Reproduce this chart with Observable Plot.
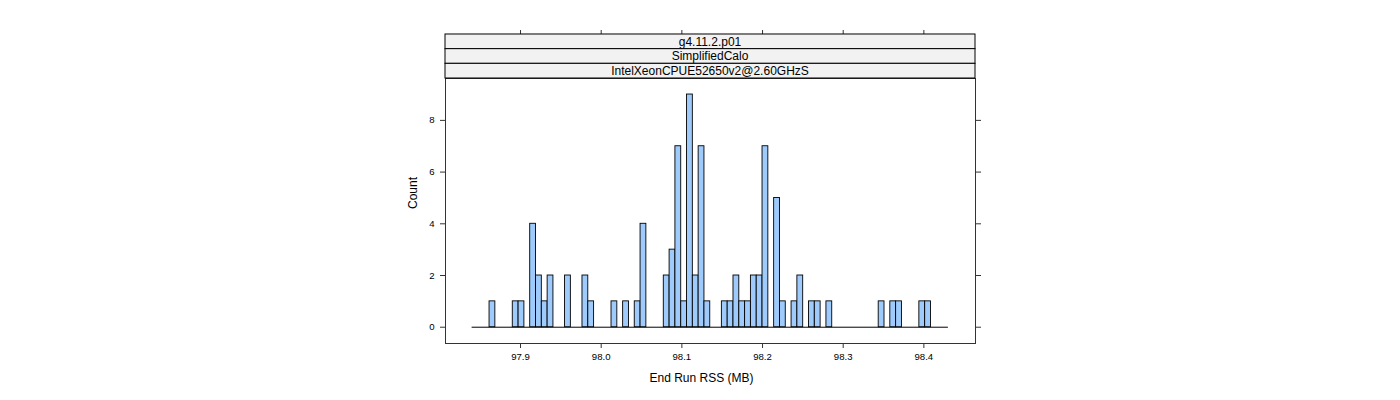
<!DOCTYPE html>
<html>
<head>
<meta charset="utf-8">
<script src="https://cdn.jsdelivr.net/npm/d3@7"></script>
<script src="https://cdn.jsdelivr.net/npm/@observablehq/plot@0.6"></script>
<style>
  html, body { margin: 0; padding: 0; background: #fff; }
  #chart { position: relative; width: 1400px; height: 400px; }
  svg { font-family: "Liberation Sans", Arial, sans-serif; }
</style>
</head>
<body>
<div id="chart"></div>
<script>
// ---- data ----
const stripLabels = ["g4.11.2.p01", "SimplifiedCalo", "IntelXeonCPUE52650v2@2.60GHzS"];
const breakMin = 97.84;
const breakMax = 98.4304;
const binWidth = 0.0072;
const binLow = [97.8616, 97.8904, 97.8976, 97.912, 97.9192, 97.9264, 97.9336, 97.9552, 97.9768, 97.984,
  98.0128, 98.0272, 98.0416, 98.0488, 98.0776, 98.0848, 98.092, 98.0992, 98.1064, 98.1136,
  98.1208, 98.128, 98.1496, 98.1568, 98.164, 98.1712, 98.1784, 98.1856, 98.1928, 98.2,
  98.2144, 98.2216, 98.236, 98.2432, 98.2576, 98.2648, 98.2792, 98.344, 98.3584, 98.3656,
  98.3944, 98.4016];
const counts = [1, 1, 1, 4, 2, 1, 2, 2, 2, 1,
  1, 1, 1, 4, 2, 3, 7, 1, 9, 2,
  7, 1, 1, 1, 2, 1, 1, 2, 2, 7,
  5, 1, 1, 2, 1, 1, 1, 1, 1, 1,
  1, 1];
const xTicks = [97.9, 98.0, 98.1, 98.2, 98.3, 98.4];
const yTicks = [0, 2, 4, 6, 8];
const xLabel = "End Run RSS (MB)";
const yLabel = "Count";

const bins = binLow.map((v, i) => ({x1: v, x2: v + binWidth, count: counts[i]}));
const baseline = [{x1: breakMin, x2: breakMax}];

const W = 1400, H = 400;
const mL = 445, mR = 425, mT = 78, mB = 57;

const plot = Plot.plot({
  width: W,
  height: H,
  marginLeft: mL,
  marginRight: mR,
  marginTop: mT,
  marginBottom: mB,
  style: {fontFamily: "Liberation Sans, Arial, sans-serif", fontSize: "9.6px", color: "#000", background: "#fff"},
  x: {domain: [97.807, 98.464]},
  y: {domain: [-0.63, 9.62]},
  marks: [
    Plot.ruleY(baseline, {x1: "x1", x2: "x2", y: 0, stroke: "#000", strokeWidth: 1}),
    Plot.rectY(bins, {x1: "x1", x2: "x2", y1: 0, y2: "count", fill: "#9ecbfb", stroke: "#000", strokeWidth: 0.9}),
    Plot.frame({stroke: "#333", strokeWidth: 1}),
    Plot.axisX({anchor: "bottom", ticks: xTicks, tickSize: 5, tickPadding: 5, tickFormat: d3.format(".1f"), label: null, fontSize: 9.6, stroke: "#333"}),
    Plot.axisX({anchor: "top", ticks: xTicks, tickSize: 5, tickFormat: () => "", label: null, dy: -44, stroke: "#333"}),
    Plot.axisY({anchor: "left", ticks: yTicks, tickSize: 5, tickPadding: 6, label: null, fontSize: 9.6, stroke: "#333"}),
    Plot.axisY({anchor: "right", ticks: yTicks, tickSize: 5, tickFormat: () => "", label: null, stroke: "#333"}),
    Plot.text([xLabel], {frameAnchor: "bottom", dy: 38, dx: -9, fontSize: 12}),
    Plot.text([yLabel], {frameAnchor: "left", dx: -32, dy: -2, rotate: -90, fontSize: 12})
  ]
});

// strips above the panel, positioned from the plot's x scale range
const svg = d3.select(plot);
const xr = plot.scale("x").range;
const stripH = 14.67;
const stripTop = mT - stripLabels.length * stripH;
const g = svg.append("g");
stripLabels.forEach((lab, i) => {
  const y0 = stripTop + i * stripH;
  g.append("rect").attr("x", xr[0]).attr("y", y0).attr("width", xr[1] - xr[0]).attr("height", stripH)
    .attr("fill", "#f2f2f2").attr("stroke", "#000").attr("stroke-width", 1);
  g.append("text").attr("x", (xr[0] + xr[1]) / 2).attr("y", y0 + stripH / 2).attr("dy", "0.36em")
    .attr("text-anchor", "middle").attr("font-size", 12).attr("fill", "#000").text(lab);
});

document.getElementById("chart").appendChild(plot);
</script>
</body>
</html>
